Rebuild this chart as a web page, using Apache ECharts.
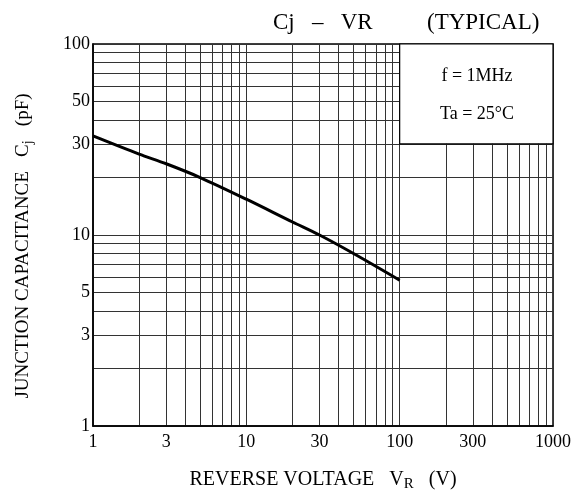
<!DOCTYPE html>
<html>
<head>
<meta charset="utf-8">
<script src="https://cdn.jsdelivr.net/npm/echarts@6/dist/echarts.min.js"></script>
<style>
html,body{margin:0;padding:0;background:#fff;}
#chart{width:575px;height:491px;}
</style>
</head>
<body>
<div id="chart"></div>
<script>
// Data
const voltage = [1, 2, 3, 5, 10, 20, 30, 50, 100];
const capacitance = [33, 26.5, 23.6, 20, 15.4, 11.7, 10, 8.0, 5.8];
const xTickLabels = [1, 3, 10, 30, 100, 300, 1000];
const yTickLabels = [1, 3, 5, 10, 30, 50, 100];
const mantissas = [1, 2, 3, 4, 5, 6, 7, 8, 9];
const xDecades = [1, 10, 100];
const yDecades = [1, 10];
const noteLines = ['f = 1MHz', 'Ta = 25\u00B0C'];

const gridX = [];
xDecades.forEach(d => mantissas.forEach(m => gridX.push(d * m)));
gridX.push(1000);
const gridY = [];
yDecades.forEach(d => mantissas.forEach(m => gridY.push(d * m)));
gridY.push(100);

const FONT = 'Liberation Serif';
const nameRichY = {
  v: { fontFamily: FONT, fontSize: 19, color: '#000' },
  s: { fontFamily: FONT, fontSize: 14, color: '#000', verticalAlign: 'bottom', padding: [9, 0, 0, 0] },
  p: { fontFamily: FONT, fontSize: 19, color: '#000', padding: [0, 22, 0, 0] }
};
const nameRichX = {
  v: { fontFamily: FONT, fontSize: 20, color: '#000' },
  s: { fontFamily: FONT, fontSize: 15, color: '#000', verticalAlign: 'bottom', padding: [9, 0, 0, 0] }
};
const chart = echarts.init(document.getElementById('chart'));
chart.setOption({
  animation: false,
  backgroundColor: '#fff',
  grid: { left: 93, right: 22, top: 44, bottom: 65, show: true, borderColor: '#000', borderWidth: 1.5,
          containLabel: false, outerBoundsMode: 'none' },
  xAxis: {
    type: 'log', logBase: 10, min: 1, max: 1000,
    axisLine: { show: true, lineStyle: { color: '#000', width: 1.5 } },
    axisTick: { show: false, customValues: gridX },
    axisLabel: { customValues: xTickLabels, formatter: v => String(v), color: '#000', fontFamily: FONT, fontSize: 18, margin: 7 },
    splitLine: { show: true, lineStyle: { color: '#333', width: 1 } },
    name: 'REVERSE VOLTAGE   {v|V}{s|R}   (V)',
    nameLocation: 'middle', nameGap: 42,
    nameTextStyle: { color: '#000', fontFamily: FONT, fontSize: 20, rich: nameRichX }
  },
  yAxis: {
    type: 'log', logBase: 10, min: 1, max: 100,
    axisLine: { show: true, lineStyle: { color: '#000', width: 1.5 } },
    axisTick: { show: false, customValues: gridY },
    axisLabel: { customValues: yTickLabels, formatter: v => String(v), color: '#000', fontFamily: FONT, fontSize: 18, margin: 3 },
    splitLine: { show: true, lineStyle: { color: '#333', width: 1 } },
    name: 'JUNCTION CAPACITANCE   {v|C}{s|j}   {p|(pF)}',
    nameLocation: 'middle', nameGap: 58, nameRotate: 90,
    nameTextStyle: { color: '#000', fontFamily: FONT, fontSize: 19, rich: nameRichY }
  },
  series: [{
    type: 'line',
    data: voltage.map((v, i) => [v, capacitance[i]]),
    showSymbol: false,
    smooth: 0.3,
    lineStyle: { color: '#000', width: 3 },
    z: 3,
    markArea: {
      silent: true,
      itemStyle: { color: '#fff', borderColor: '#000', borderWidth: 1.2, opacity: 1 },
      label: { show: false },
      data: [[{ coord: [100, 100] }, { coord: [1000, 30] }]]
    }
  }],
  graphic: [
    { type: 'text', left: 273, top: 11, style: { text: 'Cj   \u2013   VR', fontFamily: FONT, fontSize: 23, fill: '#000' } },
    { type: 'text', left: 427, top: 11, style: { text: '(TYPICAL)', fontFamily: FONT, fontSize: 23, fill: '#000' } },
    { type: 'text', x: 477, y: 76, style: { text: noteLines[0], fontFamily: FONT, fontSize: 18, fill: '#000', align: 'center', verticalAlign: 'middle' }, z: 10 },
    { type: 'text', x: 477, y: 114, style: { text: noteLines[1], fontFamily: FONT, fontSize: 18, fill: '#000', align: 'center', verticalAlign: 'middle' }, z: 10 }
  ]
});
</script>
</body>
</html>
